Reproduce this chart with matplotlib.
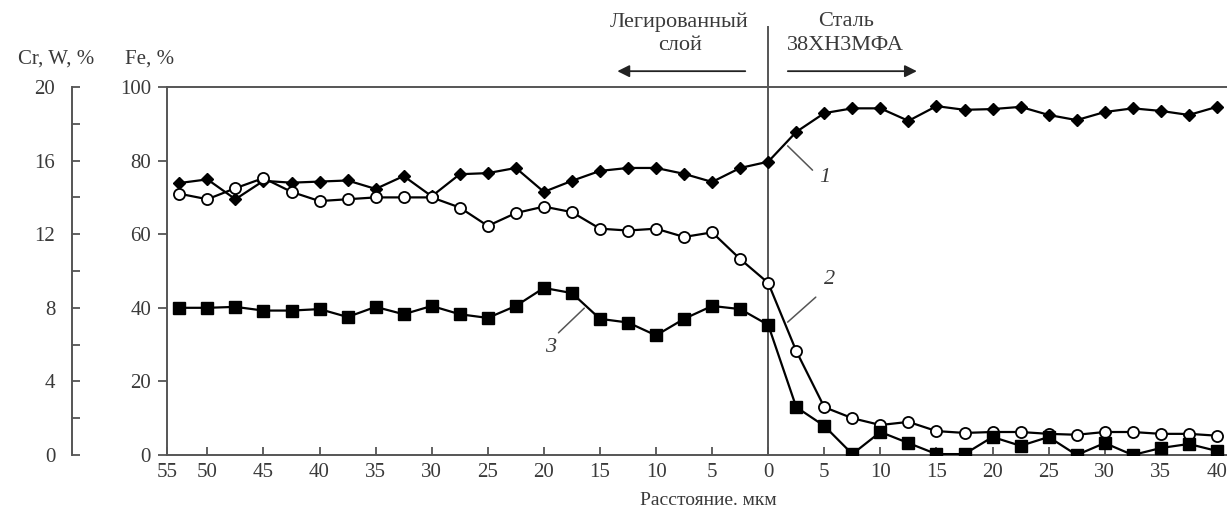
import matplotlib
matplotlib.use('Agg')
import matplotlib.pyplot as plt

plt.rcParams['font.family'] = ['Liberation Serif', 'DejaVu Serif']

# distance from the boundary, um (layer side negative)
distance = [-52.5, -50, -47.5, -45, -42.5, -40, -37.5, -35, -32.5, -30, -27.5,
            -25, -22.5, -20, -17.5, -15, -12.5, -10, -7.5, -5, -2.5, 0,
            2.5, 5, 7.5, 10, 12.5, 15, 17.5, 20, 22.5, 25, 27.5, 30, 32.5,
            35, 37.5, 40]

# curve 1: Fe, %
fe = [73.9, 74.9, 69.5, 74.5, 74.0, 74.3, 74.6, 72.3, 75.8, 70.3, 76.3,
      76.6, 78.0, 71.5, 74.5, 77.2, 78.0, 78.0, 76.4, 74.2, 78.0, 79.7,
      87.8, 92.9, 94.2, 94.2, 90.8, 94.8, 93.8, 94.0, 94.6, 92.4, 91.0,
      93.2, 94.2, 93.5, 92.4, 94.6]

# curve 2: Cr, %
cr = [14.2, 13.9, 14.5, 15.05, 14.3, 13.8, 13.9, 14.0, 14.0, 14.0, 13.45,
      12.45, 13.15, 13.5, 13.2, 12.3, 12.2, 12.3, 11.85, 12.1, 10.65, 9.35,
      5.65, 2.6, 2.0, 1.63, 1.8, 1.3, 1.2, 1.25, 1.25, 1.15, 1.1,
      1.25, 1.25, 1.15, 1.15, 1.05]

# curve 3: W, %
w = [8.0, 8.0, 8.05, 7.85, 7.85, 7.93, 7.5, 8.05, 7.65, 8.1, 7.65,
     7.45, 8.1, 9.08, 8.8, 7.4, 7.2, 6.5, 7.4, 8.1, 7.93, 7.07,
     2.6, 1.58, 0.05, 1.25, 0.65, 0.05, 0.05, 0.98, 0.5, 0.98, 0.0,
     0.65, 0.0, 0.38, 0.6, 0.22]

x_ticks = [-53.6, -50, -45, -40, -35, -30, -25, -20, -15, -10, -5, 0,
           5, 10, 15, 20, 25, 30, 35, 40]
x_labels = ['55', '50', '45', '40', '35', '30', '25', '20', '15', '10', '5',
            '0', '5', '10', '15', '20', '25', '30', '35', '40']

grey = '#555555'
txt = '#3a3a3a'
fs = 15

fig = plt.figure(figsize=(12.27, 5.16), dpi=100)
ax = fig.add_axes([0.1361, 0.1182, 0.8639, 0.7132])
ax2 = ax.twinx()

ax.plot(distance, fe, color='black', lw=1.6, marker='D', ms=6.2, zorder=3)
ax2.plot(distance, cr, color='black', lw=1.6, marker='o', ms=8,
         markerfacecolor='white', markeredgecolor='black', mew=1.3, zorder=3)
ax2.plot(distance, w, color='black', lw=1.6, marker='s', ms=8, zorder=4)

ax.set_xlim(-53.6, 40.9)
ax.set_ylim(0, 100)
ax2.set_ylim(0, 20)

# Fe axis
ax.set_yticks([0, 20, 40, 60, 80, 100])
ax.tick_params(axis='y', direction='out', length=6.5, width=1.3, color=grey,
               labelsize=fs, labelcolor=txt, pad=5)
ax.set_xticks(x_ticks)
ax.set_xticklabels(x_labels)
ax.tick_params(axis='x', direction='in', length=6, width=1.3, color=grey,
               labelsize=fs, labelcolor=txt, pad=6)
for side in ['left', 'bottom', 'top']:
    ax.spines[side].set_color(grey)
    ax.spines[side].set_linewidth(1.4)
ax.spines['right'].set_visible(False)

# Cr, W axis
ax2.yaxis.set_ticks_position('left')
ax2.yaxis.set_label_position('left')
for side in ['right', 'top', 'bottom']:
    ax2.spines[side].set_visible(False)
ax2.spines['left'].set_visible(True)
ax2.spines['left'].set_position(('axes', -0.0896))
ax2.spines['left'].set_color(grey)
ax2.spines['left'].set_linewidth(1.4)
ax2.set_yticks([0, 4, 8, 12, 16, 20])
ax2.set_yticks([2, 6, 10, 14, 18], minor=True)
ax2.tick_params(axis='y', which='both', direction='in', length=6, width=1.3,
                color=grey, labelsize=fs, labelcolor=txt, pad=12)

# boundary line
ax.axvline(0, ymin=0, ymax=1.163, color=grey, lw=1.4, clip_on=False, zorder=2)

# region labels and arrows
ax.annotate('', xy=(-13.7, 104.3), xytext=(-1.8, 104.3),
            arrowprops=dict(arrowstyle='-|>', color='#222222', lw=1.3,
                            mutation_scale=18), annotation_clip=False)
ax.annotate('', xy=(13.5, 104.3), xytext=(1.5, 104.3),
            arrowprops=dict(arrowstyle='-|>', color='#222222', lw=1.3,
                            mutation_scale=18), annotation_clip=False)
ax.text(-7.9, 117.7, 'Легированный', ha='center', va='center',
        fontsize=16, color=txt, clip_on=False)
ax.text(-7.9, 111.2, 'слой', ha='center', va='center',
        fontsize=16, color=txt, clip_on=False)
ax.text(6.9, 117.7, 'Сталь', ha='center', va='center',
        fontsize=16, color=txt, clip_on=False)
ax.text(6.9, 111.2, '38ХН3МФА', ha='center', va='center',
        fontsize=16, color=txt, clip_on=False)

# curve numbers
lead = dict(arrowstyle='-', color=grey, lw=1.1, shrinkA=0, shrinkB=0)
ax.annotate('', xy=(1.73, 84.0), xytext=(3.95, 77.4), arrowprops=lead)
ax.text(5.0, 75.3, '1', style='italic', fontsize=16, color=txt,
        ha='center', va='center')
ax.annotate('', xy=(1.73, 36.1), xytext=(4.24, 42.9), arrowprops=lead)
ax.text(5.5, 47.6, '2', style='italic', fontsize=16, color=txt,
        ha='center', va='center')
ax.annotate('', xy=(-16.4, 39.9), xytext=(-18.7, 33.2), arrowprops=lead)
ax.text(-19.4, 29.3, '3', style='italic', fontsize=16, color=txt,
        ha='center', va='center')

fig.text(0.0456, 0.886, 'Cr, W, %', ha='center', va='center',
         fontsize=fs, color=txt)
fig.text(0.122, 0.886, 'Fe, %', ha='center', va='center',
         fontsize=fs, color=txt)
fig.text(0.577, 0.03, 'Расстояние. мкм', ha='center', va='center',
         fontsize=14, color=txt)

fig.savefig('out.png', dpi=100)
